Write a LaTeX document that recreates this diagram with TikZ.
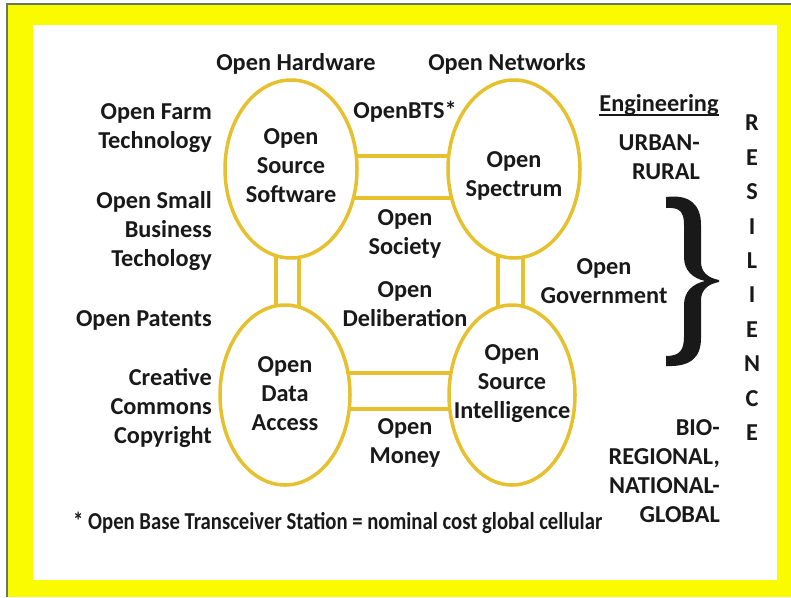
\documentclass[tikz,border=0pt]{standalone}
\usepackage{fontspec}
\setmainfont{Carlito}
\usetikzlibrary{shapes.geometric}
\pgfdeclarelayer{back}
\pgfdeclarelayer{links}
\pgfsetlayers{back,links,main}
\definecolor{gold}{RGB}{230,192,45}
\definecolor{frameyellow}{RGB}{250,250,0}
\definecolor{frameline}{RGB}{100,122,90}
\definecolor{ink}{RGB}{25,25,25}
\begin{document}
\begin{tikzpicture}[x=1pt,y=-1pt,
  txt/.style={font=\fontsize{24.3}{29}\selectfont\bfseries, text=ink, inner sep=0pt, align=center},
  bubble/.style={ellipse, draw=gold, line width=3.5pt, fill=white, inner sep=0pt},
  link/.style={draw=gold, line width=4pt}]
\useasboundingbox (0,0) rectangle (791,597);
\begin{pgfonlayer}{back}
\fill[white] (0,0) rectangle (791,597);
\fill[frameyellow] (7,4) rectangle (791,597);
\fill[white] (33,25) rectangle (777,580);
\draw[frameline, line width=1.5pt] (7,597) -- (7,4) -- (791,4);
\end{pgfonlayer}

% ellipses
\node[bubble, minimum width=132pt, minimum height=178pt] (oss) at (291,169) {};
\node[bubble, minimum width=132pt, minimum height=178pt] (ospec) at (514,169) {};
\node[bubble, minimum width=130pt, minimum height=180pt] (oda) at (285,395) {};
\node[bubble, minimum width=126pt, minimum height=180pt] (osi) at (512,395) {};

\coordinate (vl1) at (276,0);
\coordinate (vl2) at (299,0);
\coordinate (vr1) at (498,0);
\coordinate (vr2) at (523,0);

\begin{pgfonlayer}{links}
\draw[link] ([yshift=13pt]oss.center) -- ([yshift=13pt]ospec.center);
\draw[link] ([yshift=-29pt]oss.center) -- ([yshift=-29pt]ospec.center);
\draw[link] ([yshift=22pt]oda.center) -- ([yshift=22pt]osi.center);
\draw[link] ([yshift=-14pt]oda.center) -- ([yshift=-14pt]osi.center);
\draw[link] (oss.center -| vl1) -- (oda.center -| vl1);
\draw[link] (oss.center -| vl2) -- (oda.center -| vl2);
\draw[link] (ospec.center -| vr1) -- (osi.center -| vr1);
\draw[link] (ospec.center -| vr2) -- (osi.center -| vr2);
\end{pgfonlayer}

% texts inside ellipses
\node[txt] (ossT) at (291,166) {Open\\Source\\Software};
\node[txt] (ospecT) at (514,176) {Open\\Spectrum};
\node[txt] (odaT) at (285,394) {Open\\Data\\Access};
\node[txt] (osiT) at (512,384) {Open\\Source\\Intelligence};

% outer labels
\node[txt] (hw) at (296,64) {Open Hardware};
\node[txt] (nets) at (507,64) {Open Networks};
\node[txt] (bts) at (405,112) {OpenBTS*};
\node[txt, align=right, anchor=east] (farm) at (212,128) {Open Farm\\Technology};
\node[txt, align=right, anchor=east] (smallbiz) at (212,231) {Open Small\\Business\\Techology};
\node[txt, align=right, anchor=east] (patents) at (212,320) {Open Patents};
\node[txt, align=right, anchor=east] (cc) at (212,408) {Creative\\Commons\\Copyright};
\node[txt] (society) at (405,234) {Open\\Society};
\node[txt] (delib) at (405,304) {Open\\Deliberation};
\node[txt] (money) at (405,443) {Open\\Money};
\node[txt] (gov) at (604,281) {Open\\Government};
\node[txt] (eng) at (659,105) {Engineering};
\draw[ink, line width=1.3pt] ([yshift=-3.5pt]eng.base west) -- ([yshift=-3.5pt]eng.base east);
\node[txt, align=right, anchor=east] (urban) at (700,157) {URBAN-\\RURAL};
\node[txt, align=right, anchor=east] (bio) at (720,471) {BIO-\\REGIONAL,\\NATIONAL-\\GLOBAL};
\node[txt, anchor=west] (foot) at (73,523) {\resizebox{529pt}{\height}{* Open Base Transceiver Station = nominal cost global cellular}};

\foreach \l [count=\i] in {R,E,S,I,L,I,E,N,C,E}
  \node[txt] (res\i) at (752,{123+34.4*(\i-1)}) {\l};

% brace
\fill[ink] (666,197) .. controls (690,194) and (701,205) .. (701,225) -- (701,262)
  .. controls (701,272) and (708,278) .. (719,280) -- (719,282)
  .. controls (708,284) and (701,290) .. (701,300) -- (701,338)
  .. controls (701,358) and (690,367) .. (666,366) -- (666,356)
  .. controls (680,356) and (684,350) .. (684,336) -- (684,305)
  .. controls (684,292) and (692,284) .. (705,281)
  .. controls (692,278) and (684,270) .. (684,257) -- (684,225)
  .. controls (684,212) and (680,207) .. (666,208) -- cycle;
\end{tikzpicture}
\end{document}
